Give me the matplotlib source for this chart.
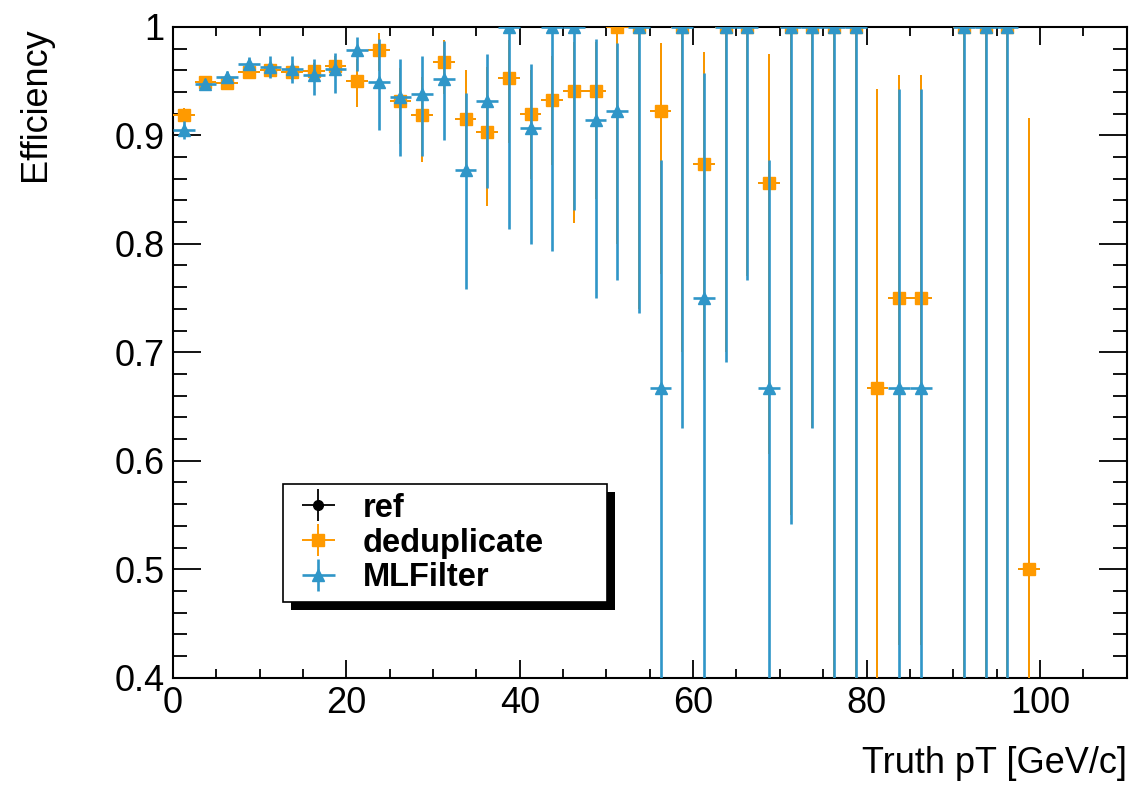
import numpy as np
import matplotlib
matplotlib.use("Agg")
import matplotlib.pyplot as plt
from matplotlib.patches import Rectangle
from matplotlib.ticker import MultipleLocator, FixedLocator, FixedFormatter

plt.rcParams['font.family'] = ['Liberation Sans', 'DejaVu Sans']

nan = np.nan

# bin centres (2.5 GeV bins)
pt_bins = [1.25, 3.75, 6.25, 8.75, 11.25, 13.75, 16.25, 18.75, 21.25, 23.75,
           26.25, 28.75, 31.25, 33.75, 36.25, 38.75, 41.25, 43.75, 46.25, 48.75,
           51.25, 53.75, 56.25, 58.75, 61.25, 63.75, 66.25, 68.75, 71.25, 73.75,
           76.25, 78.75, 81.25, 83.75, 86.25, 88.75, 91.25, 93.75, 96.25, 98.75]
bin_half = 1.25

# deduplicate efficiency and asymmetric errors
dedup_eff = [0.919, 0.949, 0.948, 0.958, 0.960, 0.958, 0.959, 0.964, 0.950, 0.979,
             0.932, 0.919, 0.968, 0.915, 0.903, 0.953, 0.920, 0.933, 0.941, 0.941,
             1.0, 1.0, 0.922, 1.0, 0.874, 1.0, 1.0, 0.856, 1.0, 1.0,
             1.0, 1.0, 0.667, 0.750, 0.750, nan, 1.0, 1.0, 1.0, 0.500]
dedup_lo = [0.006, 0.005, 0.005, 0.006, 0.006, 0.007, 0.008, 0.009, 0.024, 0.020,
            0.040, 0.044, 0.030, 0.050, 0.068, 0.060, 0.060, 0.060, 0.122, 0.100,
            0.200, 0.260, 0.150, 0.300, 0.200, 0.300, 0.230, 0.250, 0.450, 0.370,
            0.840, 0.840, 0.400, 0.320, 0.320, nan, 0.840, 0.840, 0.840, 0.420]
dedup_hi = [0.006, 0.005, 0.005, 0.006, 0.006, 0.007, 0.008, 0.009, 0.020, 0.015,
            0.030, 0.035, 0.020, 0.045, 0.060, 0.035, 0.040, 0.040, 0.045, 0.045,
            0.0, 0.0, 0.063, 0.0, 0.103, 0.0, 0.0, 0.119, 0.0, 0.0,
            0.0, 0.0, 0.276, 0.206, 0.206, nan, 0.0, 0.0, 0.0, 0.416]

# MLFilter efficiency and asymmetric errors
ml_eff = [0.905, 0.947, 0.954, 0.966, 0.963, 0.961, 0.956, 0.961, 0.979, 0.949,
          0.935, 0.938, 0.952, 0.868, 0.932, 1.0, 0.907, 1.0, 1.0, 0.914,
          0.922, 1.0, 0.667, 1.0, 0.750, 1.0, 1.0, 0.667, 1.0, 1.0,
          1.0, 1.0, nan, 0.667, 0.667, nan, 1.0, 1.0, 1.0, nan]
ml_lo = [0.008, 0.005, 0.005, 0.006, 0.010, 0.013, 0.019, 0.022, 0.020, 0.044,
         0.054, 0.057, 0.056, 0.110, 0.081, 0.186, 0.107, 0.207, 0.169, 0.164,
         0.155, 0.264, 0.400, 0.370, 0.400, 0.309, 0.233, 0.400, 0.458, 0.370,
         0.840, 0.840, nan, 0.400, 0.400, nan, 0.840, 0.840, 0.840, nan]
ml_hi = [0.008, 0.005, 0.005, 0.006, 0.010, 0.012, 0.014, 0.015, 0.012, 0.040,
         0.035, 0.035, 0.035, 0.071, 0.043, 0.0, 0.059, 0.0, 0.0, 0.075,
         0.063, 0.0, 0.210, 0.0, 0.207, 0.0, 0.0, 0.210, 0.0, 0.0,
         0.0, 0.0, nan, 0.276, 0.276, nan, 0.0, 0.0, 0.0, nan]

# ref is hidden under deduplicate
ref_eff = dedup_eff
ref_lo = dedup_lo
ref_hi = dedup_hi

orange = '#ff9a00'
blue = '#2f96c8'

fig = plt.figure(figsize=(11.3, 7.89), dpi=100)
ax = fig.add_axes([0.153, 0.141, 0.844, 0.825])

x = np.array(pt_bins)
xe = np.full(len(x), bin_half)

def draw(eff, lo, hi, color, marker, ms, lw, label, z):
    eff = np.array(eff); lo = np.array(lo); hi = np.array(hi)
    m = ~np.isnan(eff)
    return ax.errorbar(x[m], eff[m], xerr=xe[m], yerr=[lo[m], hi[m]], fmt=marker,
                       color=color, ms=ms, elinewidth=lw, capsize=0,
                       label=label, zorder=z)

h_ref = draw(ref_eff, ref_lo, ref_hi, 'black', 'o', 7, 1.3, 'ref', 2)
h_ded = draw(dedup_eff, dedup_lo, dedup_hi, orange, 's', 8.5, 1.4, 'deduplicate', 3)
h_ml = draw(ml_eff, ml_lo, ml_hi, blue, '^', 9, 1.9, 'MLFilter', 4)

ax.set_xlim(0, 110)
ax.set_ylim(0.4, 1.0)

ax.xaxis.set_major_locator(MultipleLocator(20))
ax.xaxis.set_minor_locator(MultipleLocator(5))
yt = [0.4, 0.5, 0.6, 0.7, 0.8, 0.9, 1.0]
ax.yaxis.set_major_locator(FixedLocator(yt))
ax.yaxis.set_major_formatter(FixedFormatter(['0.4', '0.5', '0.6', '0.7', '0.8', '0.9', '1']))
ax.yaxis.set_minor_locator(MultipleLocator(0.02))

ax.tick_params(which='both', direction='in', top=True, right=True, labelsize=26, width=1.3)
ax.tick_params(axis='x', which='major', length=13, pad=6)
ax.tick_params(axis='x', which='minor', length=6.5)
ax.tick_params(axis='y', which='major', length=20, pad=6)
ax.tick_params(axis='y', which='minor', length=10)
for s in ax.spines.values():
    s.set_linewidth(1.5)

ax.set_ylabel('Efficiency', fontsize=26, loc='top')
ax.yaxis.set_label_coords(-0.126, 1.0)
ax.set_xlabel('Truth pT [GeV/c]', fontsize=26, loc='right', va='top')
ax.xaxis.set_label_coords(1.0, -0.105)

leg = ax.legend(handles=[h_ref, h_ded, h_ml], loc='lower left', mode='expand',
                bbox_to_anchor=(0.115, 0.117, 0.34, 0.186),
                prop={'weight': 'bold', 'size': 23.5},
                fancybox=False, framealpha=1, edgecolor='black', borderaxespad=0,
                handlelength=1.7, handletextpad=0.5, labelspacing=0.12,
                borderpad=0.25)
leg.get_frame().set_linewidth(1.2)
leg.set_zorder(10)

# ROOT style solid shadow behind the legend box
fig.canvas.draw()
bb = leg.get_window_extent().transformed(ax.transAxes.inverted())
dx = 8 / ax.bbox.width
dy = 8 / ax.bbox.height
ax.add_patch(Rectangle((bb.x0 + dx, bb.y0 - dy), bb.width, bb.height,
                       transform=ax.transAxes, facecolor='black', edgecolor='none',
                       zorder=9, clip_on=False))

fig.savefig('out.png', dpi=100)
